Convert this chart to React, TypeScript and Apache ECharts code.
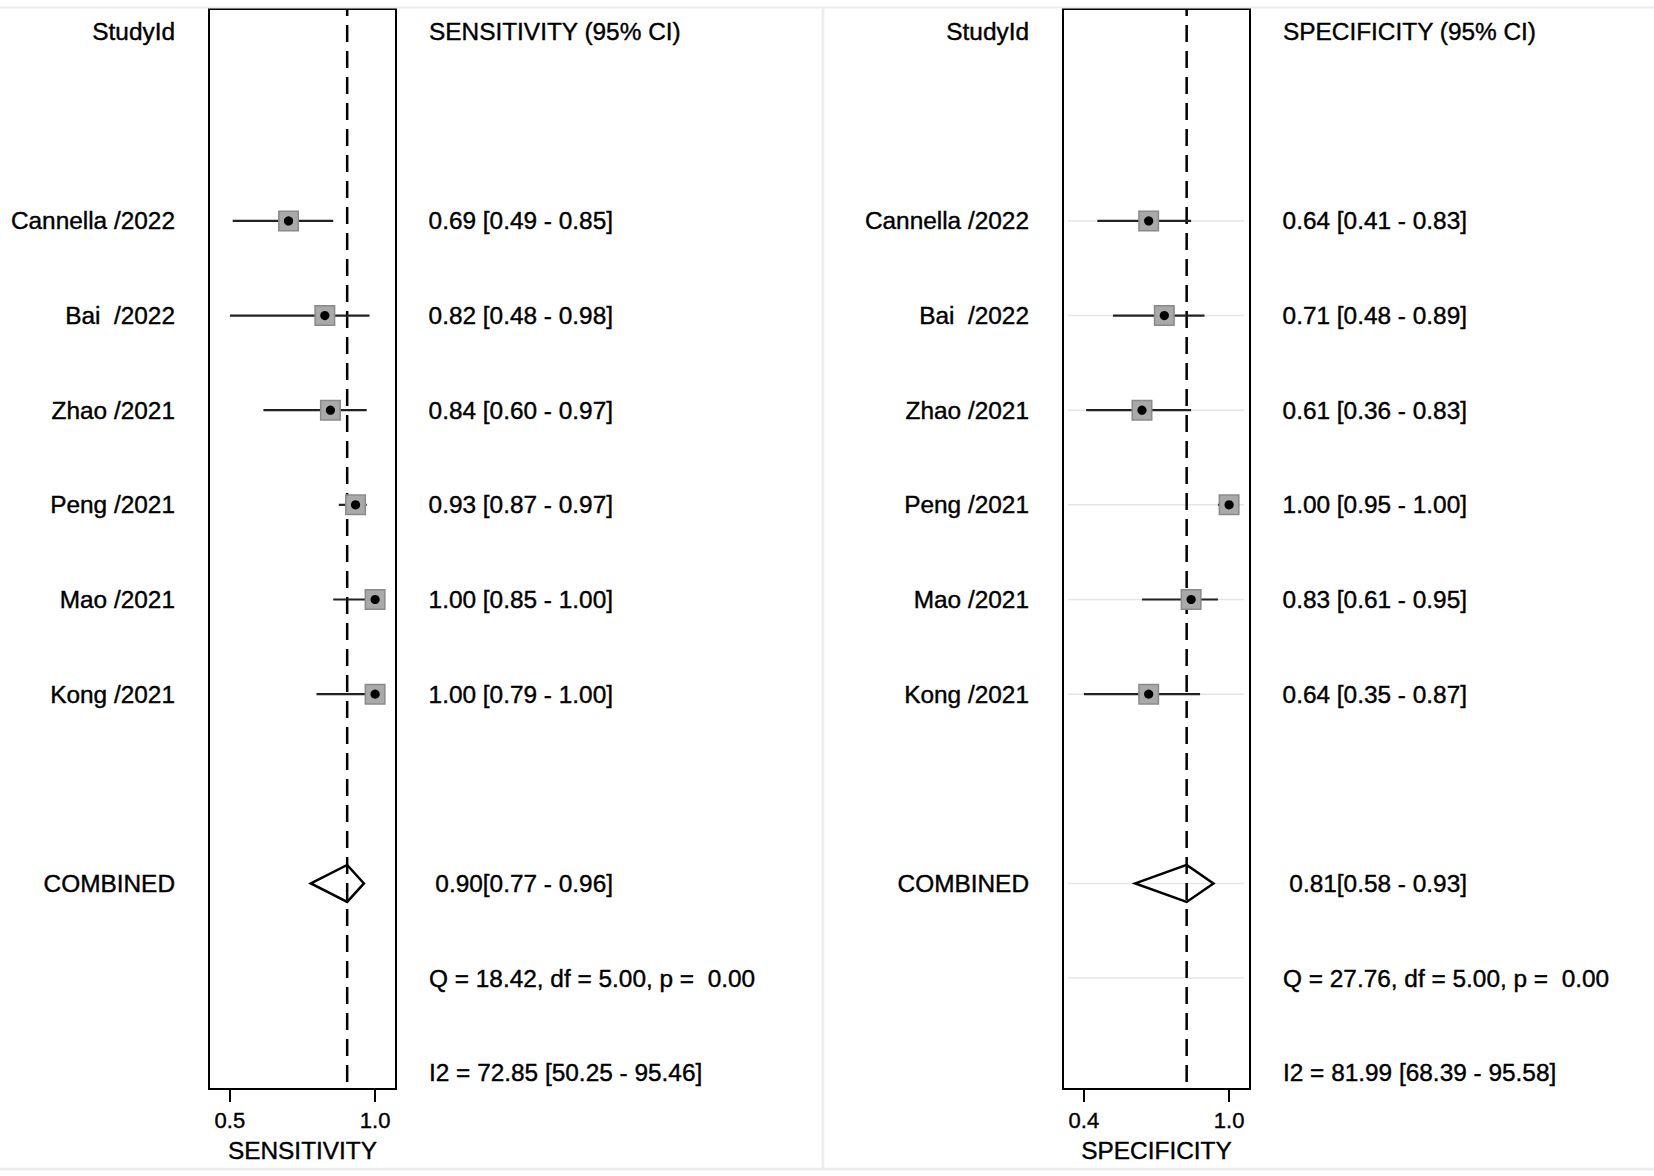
import React, { useEffect, useRef } from "react";
import * as echarts from "echarts";

// ---------- data ----------
const studyIds = ["Cannella /2022", "Bai  /2022", "Zhao /2021", "Peng /2021", "Mao /2021", "Kong /2021"];
const studyRows = [2, 3, 4, 5, 6, 7];
const headerRow = 0;
const combinedRow = 9;
const qRow = 10;
const i2Row = 11;

const sensEst = [0.69, 0.82, 0.84, 0.93, 1.0, 1.0];
const sensLo = [0.49, 0.48, 0.6, 0.87, 0.85, 0.79];
const sensHi = [0.85, 0.98, 0.97, 0.97, 1.0, 1.0];
const sensCombined = [0.9, 0.77, 0.96];
const sensQ = [18.42, 5.0, 0.0]; // Q, df, p
const sensI2 = [72.85, 50.25, 95.46];
const sensTicks = [0.48, 1.0];

const specEst = [0.64, 0.71, 0.61, 1.0, 0.83, 0.64];
const specLo = [0.41, 0.48, 0.36, 0.95, 0.61, 0.35];
const specHi = [0.83, 0.89, 0.83, 1.0, 0.95, 0.87];
const specCombined = [0.81, 0.58, 0.93];
const specQ = [27.76, 5.0, 0.0];
const specI2 = [81.99, 68.39, 95.58];
const specTicks = [0.35, 1.0];

// ---------- layout / style ----------
const FONT = '"Liberation Sans", Arial, Helvetica, sans-serif';
const ROW_MIN = -0.239;
const ROW_MAX = 11.172;
const PAD = 0.144;

const f2 = (v: number) => v.toFixed(2);

function buildPanel(
  idx: number,
  est: number[],
  lo: number[],
  hi: number[],
  comb: number[],
  q: number[],
  i2: number[],
  ticks: number[],
  title: string,
  axisName: string,
  faint: boolean
) {
  const range = ticks[1] - ticks[0];
  const xAxis = {
    type: "value",
    gridIndex: idx,
    min: ticks[0] - PAD * range,
    max: ticks[1] + PAD * range,
    axisLine: { show: true, onZero: false, lineStyle: { color: "#000", width: 2 } },
    axisTick: {
      show: true,
      customValues: ticks,
      length: 13,
      lineStyle: { color: "#000", width: 2 },
    },
    axisLabel: {
      show: true,
      customValues: ticks,
      formatter: (v: number) => (Math.round(v * 10) / 10).toFixed(1),
      fontSize: 22,
      color: "#000",
      fontFamily: FONT,
      margin: 20,
      textBorderColor: "#000",
      textBorderWidth: 0.4,
    },
    splitLine: { show: false },
    name: axisName,
    nameLocation: "middle",
    nameGap: 49,
    nameTextStyle: { fontSize: 24.4, color: "#000", fontFamily: FONT, textBorderColor: "#000", textBorderWidth: 0.4 },
  };
  const yAxis = {
    type: "value",
    gridIndex: idx,
    inverse: true,
    min: ROW_MIN,
    max: ROW_MAX,
    show: false,
  };

  const series: any[] = [];

  if (faint) {
    const faintRows = [...studyRows, combinedRow, qRow];
    series.push({
      type: "custom",
      xAxisIndex: idx,
      yAxisIndex: idx,
      z: 1,
      silent: true,
      data: faintRows.map((r) => [ticks[1], r]),
      renderItem: (params: any, api: any) => {
        const cs = params.coordSys;
        const p = api.coord([api.value(0), api.value(1)]);
        return {
          type: "line",
          shape: { x1: cs.x + 5, y1: p[1], x2: cs.x + cs.width - 6, y2: p[1] },
          style: { stroke: "#e3e6e9", lineWidth: 1.5 },
        };
      },
    });
  }

  // dashed reference line at the combined estimate
  series.push({
    type: "custom",
    xAxisIndex: idx,
    yAxisIndex: idx,
    z: 2,
    silent: true,
    data: [[comb[0], combinedRow]],
    renderItem: (params: any, api: any) => {
      const cs = params.coordSys;
      const p = api.coord([api.value(0), api.value(1)]);
      return {
        type: "line",
        shape: { x1: p[0], y1: cs.y + 1, x2: p[0], y2: cs.y + cs.height },
        style: { stroke: "#000", lineWidth: 2.5, lineDash: [17, 9], lineDashOffset: 11 },
      };
    },
  });

  // study estimates with CI
  series.push({
    type: "custom",
    xAxisIndex: idx,
    yAxisIndex: idx,
    z: 3,
    silent: true,
    data: est.map((e, i) => [e, lo[i], hi[i], studyRows[i]]),
    renderItem: (params: any, api: any) => {
      const r = api.value(3);
      const pE = api.coord([api.value(0), r]);
      const pL = api.coord([api.value(1), r]);
      const pH = api.coord([api.value(2), r]);
      const s = 19.5;
      return {
        type: "group",
        children: [
          {
            type: "line",
            shape: { x1: pL[0], y1: pL[1], x2: pH[0], y2: pH[1] },
            style: { stroke: "#222", lineWidth: 2.2 },
          },
          {
            type: "rect",
            shape: { x: pE[0] - s / 2, y: pE[1] - s / 2, width: s, height: s },
            style: { fill: "#a9a9a9", stroke: "#8a8a8a", lineWidth: 1.5 },
          },
          {
            type: "circle",
            shape: { cx: pE[0], cy: pE[1], r: 4.6 },
            style: { fill: "#000" },
          },
        ],
      };
    },
  });

  // combined diamond
  series.push({
    type: "custom",
    xAxisIndex: idx,
    yAxisIndex: idx,
    z: 4,
    silent: true,
    data: [[comb[0], comb[1], comb[2], combinedRow]],
    renderItem: (params: any, api: any) => {
      const r = api.value(3);
      const pE = api.coord([api.value(0), r]);
      const pL = api.coord([api.value(1), r]);
      const pH = api.coord([api.value(2), r]);
      const h = 18.5;
      return {
        type: "polygon",
        shape: {
          points: [
            [pL[0], pL[1]],
            [pE[0], pE[1] - h],
            [pH[0], pH[1]],
            [pE[0], pE[1] + h],
          ],
        },
        style: { fill: "none", stroke: "#000", lineWidth: 2.5, lineJoin: "miter" },
      };
    },
  });

  // text columns
  type TItem = { r: number; t: string; kind: "name" | "ci" | "stat" };
  const items: TItem[] = [];
  items.push({ r: headerRow, t: "StudyId", kind: "name" });
  items.push({ r: headerRow, t: title, kind: "stat" });
  studyIds.forEach((n, i) => {
    items.push({ r: studyRows[i], t: n, kind: "name" });
    items.push({ r: studyRows[i], t: `${f2(est[i])} [${f2(lo[i])} - ${f2(hi[i])}]`, kind: "ci" });
  });
  items.push({ r: combinedRow, t: "COMBINED", kind: "name" });
  items.push({ r: combinedRow, t: `${f2(comb[0])}[${f2(comb[1])} - ${f2(comb[2])}]`, kind: "ci" });
  items.push({ r: qRow, t: `Q = ${f2(q[0])}, df = ${f2(q[1])}, p =  ${f2(q[2])}`, kind: "stat" });
  items.push({ r: i2Row, t: `I2 = ${f2(i2[0])} [${f2(i2[1])} - ${f2(i2[2])}]`, kind: "stat" });

  series.push({
    type: "custom",
    xAxisIndex: idx,
    yAxisIndex: idx,
    z: 5,
    silent: true,
    clip: false,
    data: items.map((it) => [ticks[0], it.r]),
    renderItem: (params: any, api: any) => {
      const cs = params.coordSys;
      const it = items[params.dataIndex];
      const p = api.coord([api.value(0), api.value(1)]);
      let x = cs.x - 34;
      let align = "right";
      if (it.kind === "ci") {
        x = cs.x + 404;
        align = "right";
      } else if (it.kind === "stat") {
        x = cs.x + 220;
        align = "left";
      }
      return {
        type: "text",
        x,
        y: p[1],
        style: {
          text: it.t,
          fill: "#000",
          stroke: "#000",
          lineWidth: 0.4,
          font: `24.4px ${FONT}`,
          align,
          verticalAlign: "middle",
        },
      };
    },
  });

  return { xAxis, yAxis, series };
}

export default function App() {
  const ref = useRef<HTMLDivElement>(null);

  useEffect(() => {
    if (!ref.current) return;
    const chart = echarts.init(ref.current, null, { renderer: "svg" });

    const left = buildPanel(0, sensEst, sensLo, sensHi, sensCombined, sensQ, sensI2, sensTicks,
      "SENSITIVITY (95% CI)", "SENSITIVITY", false);
    const right = buildPanel(1, specEst, specLo, specHi, specCombined, specQ, specI2, specTicks,
      "SPECIFICITY (95% CI)", "SPECIFICITY", true);

    const frameColor = "#eaecef";

    chart.setOption({
      animation: false,
      backgroundColor: "#ffffff",
      grid: [
        { left: 209, top: 9, width: 187, height: 1080, show: true, borderColor: "#000", borderWidth: 2, backgroundColor: "transparent" },
        { left: 1063, top: 9, width: 187, height: 1080, show: true, borderColor: "#000", borderWidth: 2, backgroundColor: "transparent" },
      ],
      xAxis: [left.xAxis, right.xAxis],
      yAxis: [left.yAxis, right.yAxis],
      series: [...left.series, ...right.series],
      graphic: [
        { type: "line", silent: true, z: 0, shape: { x1: 0, y1: 7.5, x2: 1654, y2: 7.5 }, style: { stroke: frameColor, lineWidth: 2 } },
        { type: "line", silent: true, z: 0, shape: { x1: 0, y1: 1169, x2: 1654, y2: 1169 }, style: { stroke: frameColor, lineWidth: 2.5 } },
        { type: "line", silent: true, z: 0, shape: { x1: 823, y1: 7.5, x2: 823, y2: 1169 }, style: { stroke: frameColor, lineWidth: 2.5 } },
      ],
    });

    return () => chart.dispose();
  }, []);

  return (
    <div
      ref={ref}
      style={{ position: "fixed", left: 0, top: 0, width: 1654, height: 1176, background: "#fff" }}
    />
  );
}
